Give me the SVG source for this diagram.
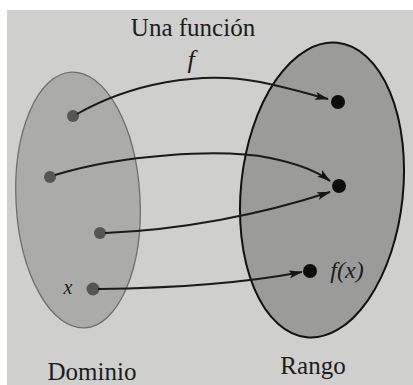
<svg xmlns="http://www.w3.org/2000/svg" width="413" height="385" viewBox="0 0 413 385">
<defs>
<marker id="ah" viewBox="0 0 14 8" refX="13" refY="4" markerWidth="14" markerHeight="8" markerUnits="userSpaceOnUse" orient="auto">
<path d="M0,0 L14,4 L0,8 L3,4 Z" fill="#151515"/>
</marker>
<style>
.conn{fill:none;stroke:#1a1a1a;stroke-width:2;marker-end:url(#ah)}
.t{font-family:"Liberation Serif","Times New Roman",serif;fill:#1c1c1c}
.i{font-style:italic}
.dl{fill:#555}
.dr{fill:#0d0d0d}
</style>
</defs>
<rect x="0" y="0" width="413" height="385" fill="#ffffff"/>
<rect x="7" y="10" width="406" height="375" fill="#cfcfcd"/>
<g id="dominio">
<ellipse cx="78" cy="200" rx="62" ry="128" fill="#ababaa" stroke="#6e6e6e" stroke-width="1.3" transform="rotate(-3 78 200)"/>
<text class="t" x="92" y="380" font-size="25" text-anchor="middle">Dominio</text>
</g>
<g id="rango">
<ellipse cx="322" cy="190" rx="81" ry="148" fill="#9b9b9a" stroke="#111" stroke-width="2" transform="rotate(6 322 190)"/>
<text class="t" x="313" y="374" font-size="25" text-anchor="middle">Rango</text>
</g>
<g id="titulo">
<text class="t" x="193" y="36" font-size="25" text-anchor="middle">Una función</text>
<text class="t i" x="191" y="68" font-size="26" text-anchor="middle">f</text>
</g>
<g id="d1"><circle class="dl" cx="73" cy="116" r="6"/></g>
<g id="d2"><circle class="dl" cx="50" cy="177" r="6"/></g>
<g id="d3"><circle class="dl" cx="100" cy="233" r="6"/></g>
<g id="dx"><circle class="dl" cx="93" cy="289" r="6.5"/><text class="t i" x="68" y="294" font-size="20" fill="#4a4a4a" text-anchor="middle">x</text></g>
<g id="r1"><circle class="dr" cx="338" cy="102" r="7"/></g>
<g id="r2"><circle class="dr" cx="339" cy="186" r="7"/></g>
<g id="rfx"><circle class="dr" cx="310" cy="271" r="7"/><text class="t i" x="347" y="278" font-size="24" text-anchor="middle">f(x)</text></g>
<g id="connectors">
<path class="conn" d="M77,114 C130,84 200,70 260,82 C290,88 312,95 328,99"/>
<path class="conn" d="M55,175 C120,155 220,148 270,158 C300,164 318,172 330,181"/>
<path class="conn" d="M105,233 C180,230 260,215 330,192"/>
<path class="conn" d="M98,289 C180,288 250,282 302,272"/>
</g>
</svg>
